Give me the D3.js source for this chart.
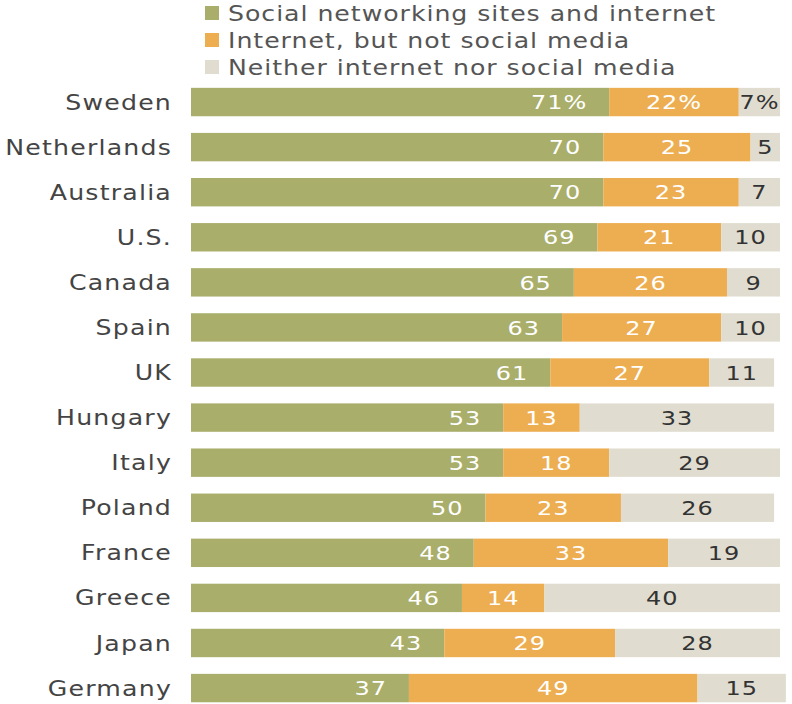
<!DOCTYPE html>
<html>
<head>
<meta charset="utf-8">
<script src="https://cdn.jsdelivr.net/npm/d3@7"></script>
<style>
  body { margin: 0; background: #fff; }
  text { font-family: "DejaVu Sans", sans-serif; }
</style>
</head>
<body>
<div id="chart"></div>
<script>
// data
var countries = ["Sweden", "Netherlands", "Australia", "U.S.", "Canada", "Spain", "UK",
  "Hungary", "Italy", "Poland", "France", "Greece", "Japan", "Germany"];
var socialValues = [71, 70, 70, 69, 65, 63, 61, 53, 53, 50, 48, 46, 43, 37];
var internetValues = [22, 25, 23, 21, 26, 27, 27, 13, 18, 23, 33, 14, 29, 49];
var neitherValues = [7, 5, 7, 10, 9, 10, 11, 33, 29, 26, 19, 40, 28, 15];
var seriesNames = ["Social networking sites and internet", "Internet, but not social media", "Neither internet nor social media"];

//styles
var width = 792, height = 704;
var colors = ["#a9ae6b", "#edae52", "#e0ddd0"];
var labelColors = ["#ffffff", "#ffffff", "#333333"];
var stretch = 1.2; // glyphs in the original are wide

var svg = d3.select("#chart").append("svg")
  .attr("width", width)
  .attr("height", height);

var x = d3.scaleLinear().domain([0, 100]).range([191, 780]);
var y = d3.scaleBand().domain(countries).range([79.5, 710.6])
  .paddingInner(0.37).paddingOuter(0.185);

var rows = countries.map(function(c, i) {
  return {country: c, values: [socialValues[i], internetValues[i], neitherValues[i]]};
});
var stack = d3.stack().keys([0, 1, 2]).value(function(d, k) { return d.values[k]; });
var series = stack(rows);

// legend
var legend = svg.append("g").selectAll("g")
  .data(seriesNames)
  .join("g")
  .attr("transform", function(d, i) { return "translate(205," + (13 + i * 27) + ")"; });
legend.append("rect")
  .attr("x", 0).attr("y", -7)
  .attr("width", 14).attr("height", 14)
  .attr("fill", function(d, i) { return colors[i]; });
legend.append("text")
  .attr("transform", "translate(23,0) scale(" + stretch + ",1)")
  .attr("dy", "0.36em")
  .attr("fill", "#555")
  .style("font-size", "21px")
  .style("letter-spacing", "0.8px")
  .text(function(d) { return d; });

// country labels
svg.append("g").selectAll("text")
  .data(countries)
  .join("text")
  .attr("transform", function(d) {
    return "translate(172," + (y(d) + y.bandwidth() / 2) + ") scale(" + stretch + ",1)";
  })
  .attr("dy", "0.36em")
  .attr("text-anchor", "end")
  .attr("fill", "#444")
  .style("font-size", "21px")
  .style("letter-spacing", "1px")
  .text(function(d) { return d; });

// bars
var layers = svg.append("g").selectAll("g")
  .data(series)
  .join("g")
  .attr("fill", function(d, i) { return colors[i]; });

layers.selectAll("rect")
  .data(function(d) { return d; })
  .join("rect")
  .attr("x", function(d) { return x(d[0]); })
  .attr("width", function(d) { return x(d[1]) - x(d[0]); })
  .attr("y", function(d) { return y(d.data.country); })
  .attr("height", y.bandwidth());

// value labels
series.forEach(function(s, k) {
  svg.append("g").selectAll("text")
    .data(s)
    .join("text")
    .attr("transform", function(d) {
      var tx = k == 0 ? x(d[1]) - 22 : (x(d[0]) + x(d[1])) / 2;
      var ty = y(d.data.country) + y.bandwidth() / 2;
      return "translate(" + tx + "," + ty + ") scale(" + stretch + ",1)";
    })
    .attr("dy", "0.36em")
    .attr("text-anchor", k == 0 ? "end" : "middle")
    .attr("fill", labelColors[k])
    .style("font-size", "20px")
    .style("letter-spacing", "0.8px")
    .text(function(d, i) {
      var v = d.data.values[k];
      return i == 0 ? v + "%" : v;
    });
});
</script>
</body>
</html>
